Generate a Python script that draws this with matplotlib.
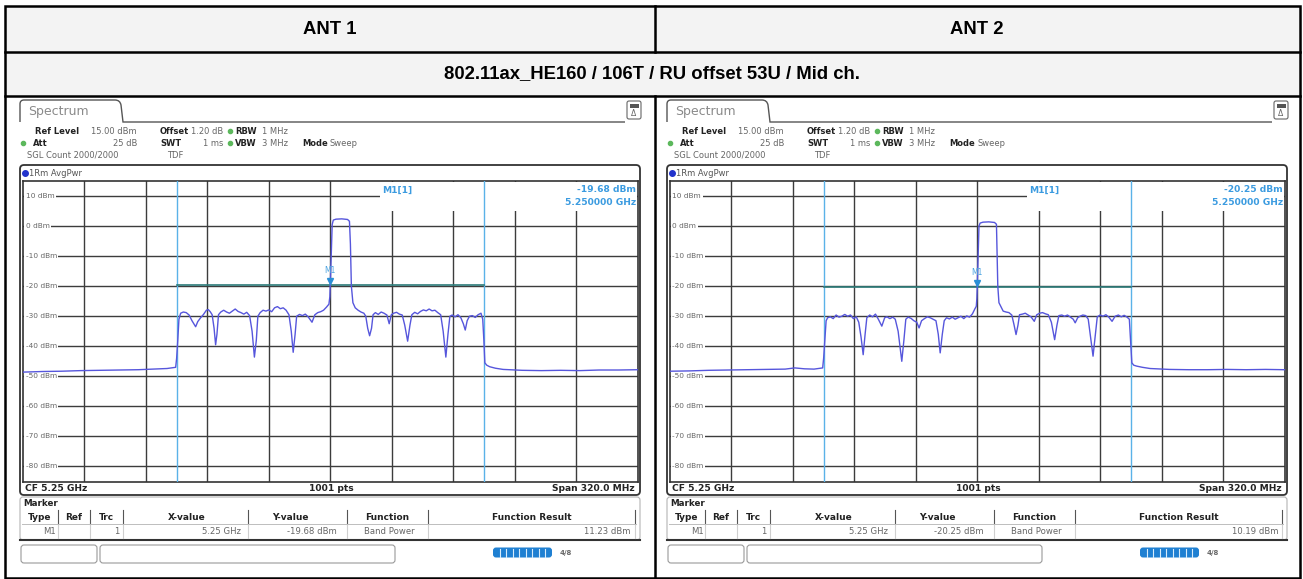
import matplotlib
matplotlib.use("Agg")
import matplotlib.pyplot as plt
from matplotlib.patches import Rectangle, FancyBboxPatch
from matplotlib.path import Path
from matplotlib.patches import PathPatch

# ---------------- data ----------------
COL_HEADERS = ["ANT 1", "ANT 2"]
TITLE = "802.11ax_HE160 / 106T / RU offset 53U / Mid ch."
REF_LEVEL = 15.0          # dBm (top of grid)
DB_PER_DIV = 10
N_DIV = 10
START_MHZ = 5090
STOP_MHZ = 5410
CF_TEXT = "CF 5.25 GHz"
PTS_TEXT = "1001 pts"
SPAN_TEXT = "Span 320.0 MHz"
BAND_EDGES_MHZ = [5170, 5330]
MARKER_FREQ_MHZ = 5250
MARKER_LEVEL = [-19.68, -20.25]
BAND_POWER = [11.23, 10.19]
Y_TICKS = [10, 0, -10, -20, -30, -40, -50, -60, -70, -80]

ANT1_TRACE = [
    (5090, -48.6), (5100, -48.4), (5110, -48.3), (5120, -48.1), (5130, -48.0), (5140, -47.9),
    (5150, -47.8), (5158, -47.6), (5165, -47.4), (5169.5, -47.0),
    (5170.0, -44), (5170.6, -38), (5171.2, -31), (5172.1, -29.0), (5173.5, -28.6), (5175, -28.8),
    (5176.5, -29.6), (5178, -31.5), (5179.9, -33.5), (5181, -31.8), (5182.5, -30.5), (5184, -29.4),
    (5185.5, -28.0), (5186.5, -27.8), (5187.5, -28.5), (5188.5, -29.5), (5189.5, -34), (5190.3, -39.5),
    (5191.0, -36), (5191.8, -29.5), (5193, -28.6), (5194.5, -28.0), (5196, -28.6), (5197.5, -29.0),
    (5199, -28.3), (5200.5, -27.6), (5202, -28.4), (5203.5, -28.8), (5205, -29.3), (5206.5, -28.7),
    (5208, -29.8), (5209.3, -35), (5210.5, -43.6), (5211.5, -38), (5212.3, -30), (5213.5, -28.8),
    (5215, -28.0), (5216.5, -28.3), (5218, -27.9), (5219.5, -28.5), (5221, -27.2), (5222.5, -26.8),
    (5224, -27.5), (5225.5, -27.2), (5227, -28), (5228.5, -29.5), (5229.7, -35), (5230.7, -42.0),
    (5231.7, -36), (5232.5, -30), (5234, -29.4), (5235.5, -29.8), (5237, -29.3), (5238.5, -30.2),
    (5240.5, -32), (5242, -29.5), (5243.5, -28.8), (5245, -28.5), (5246.5, -28.0), (5248, -27.0),
    (5249.3, -26.0), (5249.8, -23.5), (5250.0, -19.7), (5250.6, -8), (5251.0, 0.5), (5251.6, 2.0),
    (5253, 2.3), (5256, 2.4), (5259, 2.2), (5260.0, 1.6), (5260.5, -6), (5261.0, -20), (5261.8, -25.5),
    (5263, -27.2), (5264.5, -28), (5266, -28.6), (5267.5, -29.0), (5268.5, -30), (5269.5, -34),
    (5270.5, -36.5), (5271.5, -34), (5272.3, -29.5), (5273.5, -28.8), (5275, -29.4), (5276.5, -28.6),
    (5278, -29.0), (5279.5, -29.6), (5280.7, -32.5), (5281.8, -29.5), (5283, -29.0), (5284.5, -28.7),
    (5286, -29.3), (5287.5, -29.6), (5288.8, -33), (5290.3, -38.3), (5291.5, -33), (5292.5, -29.5),
    (5294, -28.7), (5295.5, -29.2), (5297, -28.4), (5298.5, -27.9), (5300, -28.2), (5301.5, -27.6),
    (5303, -28.2), (5304.5, -28.0), (5306, -28.8), (5307.5, -29.5), (5308.8, -35), (5310.2, -43.6),
    (5311.3, -36), (5312.3, -30), (5313.5, -29.6), (5315, -30.2), (5316.5, -29.5), (5318, -30.5),
    (5319.3, -32.5), (5320.3, -34.6), (5321.3, -31.5), (5322.5, -30), (5324, -29.8), (5325.5, -30.4),
    (5327, -29.5), (5328.5, -29.0), (5329.4, -31), (5330.0, -38), (5330.5, -45.5), (5331.5, -46.3),
    (5333, -46.8), (5336, -47.3), (5340, -47.7), (5350, -48.0), (5360, -48.1), (5370, -48.0),
    (5380, -48.1), (5390, -47.9), (5400, -47.9), (5410, -47.8),
]

ANT2_TRACE = [
    (5090, -48.3), (5100, -48.2), (5110, -48.0), (5120, -47.9), (5130, -47.8), (5140, -47.7),
    (5150, -47.6), (5155, -47.2), (5160, -47.5), (5165, -47.6), (5169.5, -47.2),
    (5170.0, -44), (5170.6, -38), (5171.3, -31.5), (5172.1, -30.5), (5173.5, -30.2), (5175, -30.8),
    (5176.5, -29.6), (5178, -30.3), (5179.5, -30.0), (5181, -29.4), (5182.5, -30.0), (5184, -29.6),
    (5185.5, -30.8), (5187, -30.2), (5188.3, -32), (5189.5, -37), (5190.6, -42.8), (5191.6, -36),
    (5192.5, -30.5), (5194, -29.6), (5195.5, -30.2), (5197, -29.3), (5198.5, -31), (5200.3, -33.3),
    (5201.8, -30.5), (5203, -30.2), (5204.5, -30.8), (5206, -30.3), (5207.3, -31), (5208.8, -35),
    (5210.7, -45), (5211.8, -38), (5212.8, -31), (5214, -30.3), (5215.5, -30.7), (5217, -31.5),
    (5218.5, -32), (5219.7, -33.9), (5221, -31.5), (5222.5, -30.8), (5224, -30.2), (5225.5, -30.5),
    (5227, -31), (5228.5, -31.5), (5229.7, -36), (5230.7, -42.2), (5231.8, -36), (5232.8, -31.5),
    (5234, -30.5), (5235.5, -30.9), (5237, -30.3), (5238.5, -31), (5240, -30.5), (5241.5, -30.0),
    (5243, -30.8), (5244.5, -29.9), (5246, -30.3), (5247.5, -29.2), (5248.8, -27.5), (5249.5, -26.7),
    (5249.8, -24), (5250.0, -20.3), (5250.5, -9), (5250.9, 0), (5251.5, 1.0), (5253, 1.3),
    (5256, 1.4), (5259, 1.2), (5260.0, 0.6), (5260.3, -8), (5260.7, -20), (5261.3, -25.5),
    (5262.5, -27.0), (5263.5, -28.3), (5265, -28.6), (5266.5, -28.8), (5268, -29.6), (5269.2, -33),
    (5270.2, -36.1), (5271.2, -33), (5272, -29.5), (5273.5, -29.3), (5275, -29.0), (5276.5, -29.6),
    (5278, -30.2), (5279.7, -31.7), (5281, -29.5), (5282.5, -29.0), (5284, -28.8), (5285.5, -29.2),
    (5287, -29.5), (5288.6, -32), (5290.3, -37.8), (5291.5, -33), (5292.5, -29.8), (5294, -29.6),
    (5295.5, -30.0), (5297, -29.6), (5298.5, -30.3), (5300, -31), (5301, -32.2), (5302.3, -30.5),
    (5303.5, -30.0), (5305, -29.6), (5306.5, -29.8), (5307.8, -31), (5308.8, -36), (5310.3, -43.3),
    (5311.5, -36), (5312.5, -30.2), (5314, -29.6), (5315.5, -30.0), (5317, -29.5), (5318.5, -30.3),
    (5320.2, -31.7), (5321.8, -30.0), (5323.5, -29.6), (5325, -30.2), (5326.5, -29.7), (5328, -30.3),
    (5329.2, -31), (5329.8, -38), (5330.5, -45.5), (5331.5, -46.3), (5333, -46.6), (5336, -47.0),
    (5340, -47.4), (5350, -47.7), (5360, -47.8), (5370, -47.8), (5380, -47.7), (5390, -47.8),
    (5400, -47.7), (5410, -47.8),
]
TRACES = [ANT1_TRACE, ANT2_TRACE]

SETTINGS_ROW1 = ["Ref Level", "15.00 dBm", "Offset", "1.20 dB", "RBW", "1 MHz"]
SETTINGS_ROW2 = ["Att", "25 dB", "SWT", "1 ms", "VBW", "3 MHz", "Mode", "Sweep"]
SETTINGS_ROW3 = ["SGL Count 2000/2000", "TDF"]
TABLE_HEAD = ["Type", "Ref", "Trc", "X-value", "Y-value", "Function", "Function Result"]

# ---------------- figure ----------------
W, H = 1303, 579
fig = plt.figure(figsize=(W / 100, H / 100), dpi=100)
fig.patch.set_facecolor("white")
bg = fig.add_axes([0, 0, 1, 1])
bg.set_xlim(0, W)
bg.set_ylim(H, 0)
bg.axis("off")

SANS = "DejaVu Sans"
HEAD = "Liberation Sans"
LEFT, RIGHT, TOP, BOT = 5, 1299.5, 6, 577.5
MID = 654.5
R1, R2 = 52, 96

# header backgrounds
bg.add_patch(Rectangle((LEFT, TOP), RIGHT - LEFT, R2 - TOP, fc="#f3f3f3", ec="none", zorder=0))
# table lines
blw = 1.8
bg.add_patch(Rectangle((LEFT, TOP), RIGHT - LEFT, BOT - TOP, fc="none", ec="black", lw=blw, zorder=5))
bg.plot([LEFT, RIGHT], [R1, R1], color="black", lw=blw, zorder=5)
bg.plot([LEFT, RIGHT], [R2, R2], color="black", lw=blw, zorder=5)
bg.plot([MID, MID], [TOP, R1], color="black", lw=blw, zorder=5)
bg.plot([MID, MID], [R2, BOT], color="black", lw=blw, zorder=5)

bg.text((LEFT + MID) / 2, 30, COL_HEADERS[0], ha="center", va="center", fontsize=13.3,
        fontweight="bold", family=HEAD)
bg.text((MID + RIGHT) / 2, 30, COL_HEADERS[1], ha="center", va="center", fontsize=13.3,
        fontweight="bold", family=HEAD)
bg.text((LEFT + RIGHT) / 2, 74, TITLE, ha="center", va="center", fontsize=13.3,
        fontweight="bold", family=HEAD)

LBL = "#222222"
VAL = "#666666"
GREEN = "#5cb85c"
MBLUE = "#3b9be0"


def t(x, y, s, **kw):
    kw.setdefault("family", SANS)
    kw.setdefault("va", "center")
    bg.text(x, y, s, **kw)


def panel(ox, idx):
    # tab
    verts = [(ox + 20, 122), (ox + 20, 104), (ox + 20, 100), (ox + 24, 100), (ox + 115, 100),
             (ox + 120, 100), (ox + 121, 105), (ox + 123, 122), (ox + 625, 122)]
    codes = [Path.MOVETO, Path.LINETO, Path.CURVE3, Path.CURVE3, Path.LINETO,
             Path.CURVE3, Path.CURVE3, Path.LINETO, Path.LINETO]
    bg.add_patch(PathPatch(Path(verts, codes), fc="none", ec="#555555", lw=1.0, zorder=3))
    t(ox + 28, 111, "Spectrum", fontsize=9.0, color="#8a8a8a")
    # icon top-right
    bg.add_patch(FancyBboxPatch((ox + 627, 101), 14, 18, boxstyle="round,pad=0,rounding_size=2",
                                fc="white", ec="#666666", lw=0.8, zorder=3))
    bg.add_patch(Rectangle((ox + 629.5, 104), 9, 3.5, fc="#555555", ec="none", zorder=4))
    t(ox + 634, 113.5, "\u0394", fontsize=5.5, color="#666666", ha="center")

    fs = 6.0
    y1, y2, y3 = 131, 143, 155
    # settings row 1
    t(ox + 35, y1, SETTINGS_ROW1[0], fontsize=fs, fontweight="bold", color=LBL)
    t(ox + 137, y1, SETTINGS_ROW1[1], fontsize=fs, color=VAL, ha="right")
    t(ox + 160, y1, SETTINGS_ROW1[2], fontsize=fs, fontweight="bold", color=LBL)
    t(ox + 223, y1, SETTINGS_ROW1[3], fontsize=fs, color=VAL, ha="right")
    bg.plot([ox + 229.5], [y1], "o", ms=3.0, color=GREEN, zorder=4)
    t(ox + 235, y1, SETTINGS_ROW1[4], fontsize=fs, fontweight="bold", color=LBL)
    t(ox + 262, y1, SETTINGS_ROW1[5], fontsize=fs, color=VAL)
    # row 2
    bg.plot([ox + 23], [y2], "o", ms=3.0, color=GREEN, zorder=4)
    t(ox + 33, y2, SETTINGS_ROW2[0], fontsize=fs, fontweight="bold", color=LBL)
    t(ox + 137, y2, SETTINGS_ROW2[1], fontsize=fs, color=VAL, ha="right")
    t(ox + 160, y2, SETTINGS_ROW2[2], fontsize=fs, fontweight="bold", color=LBL)
    t(ox + 223, y2, SETTINGS_ROW2[3], fontsize=fs, color=VAL, ha="right")
    bg.plot([ox + 229.5], [y2], "o", ms=3.0, color=GREEN, zorder=4)
    t(ox + 235, y2, SETTINGS_ROW2[4], fontsize=fs, fontweight="bold", color=LBL)
    t(ox + 262, y2, SETTINGS_ROW2[5], fontsize=fs, color=VAL)
    t(ox + 302, y2, SETTINGS_ROW2[6], fontsize=fs, fontweight="bold", color=LBL)
    t(ox + 330, y2, SETTINGS_ROW2[7], fontsize=fs, color=VAL)
    # row 3
    t(ox + 27, y3, SETTINGS_ROW3[0], fontsize=fs, color=VAL)
    t(ox + 167, y3, SETTINGS_ROW3[1], fontsize=fs, color=VAL)

    # trace window box
    bg.add_patch(FancyBboxPatch((ox + 20, 165), 620, 330, boxstyle="round,pad=0,rounding_size=4",
                                fc="white", ec="#333333", lw=1.3, zorder=1))
    bg.plot([ox + 25], [173], "o", ms=4, color="#2233cc", zorder=4)
    t(ox + 29, 173, "1Rm AvgPwr", fontsize=fs, color="#555555")

    # ---------------- spectrum axes ----------------
    pl, pr, pt, pb = ox + 23, ox + 637.5, 181, 481.5
    ax = fig.add_axes([pl / W, 1 - pb / H, (pr - pl) / W, (pb - pt) / H])
    ax.set_xlim(START_MHZ, STOP_MHZ)
    ax.set_ylim(REF_LEVEL - N_DIV * DB_PER_DIV, REF_LEVEL)
    ax.set_xticks([])
    ax.set_yticks([])
    for s in ax.spines.values():
        s.set_color("#333333")
        s.set_linewidth(1.2)
    gcol = "#3c3c3c"
    div = (STOP_MHZ - START_MHZ) / N_DIV
    for k in range(1, N_DIV):
        ax.axvline(START_MHZ + k * div, color=gcol, lw=1.0, zorder=1)
    for v in Y_TICKS:
        ax.axhline(v, color=gcol, lw=1.0, zorder=1)
    tr = bg.transData
    # marker info box covering grid
    ax.add_patch(Rectangle((ox + 380, pt + 0.5), pr - (ox + 380) - 0.5, 29, transform=tr,
                           fc="white", ec="none", zorder=2, clip_on=False))
    # y labels
    for v in Y_TICKS:
        ypx = pt + (REF_LEVEL - v) / DB_PER_DIV * (pb - pt) / N_DIV
        ax.text(ox + 25.5, ypx, f"{v} dBm", transform=tr, fontsize=5.3, color="#666666",
                family=SANS, va="center", ha="left", zorder=3,
                bbox=dict(fc="white", ec="none", pad=0.9))
    # band limit lines
    for f in BAND_EDGES_MHZ:
        ax.axvline(f, color="#5ab2e8", lw=1.0, zorder=4)
    lvl = MARKER_LEVEL[idx]
    ax.plot(BAND_EDGES_MHZ, [lvl, lvl], color="#2d7c7a", lw=1.2, zorder=4)
    trace = TRACES[idx]
    ax.plot([p[0] for p in trace], [p[1] for p in trace], color="#5656dc", lw=1.0, zorder=5)
    ax.plot([MARKER_FREQ_MHZ], [lvl + 1.3], marker="v", ms=4.5, color="#2b8fd6", zorder=6,
            linestyle="none")
    ax.text(MARKER_FREQ_MHZ, lvl + 4.8, "M1", ha="center", va="center", fontsize=5.5,
            color="#4aa3e0", family=SANS, zorder=6)
    ax.text(ox + 382, 190, "M1[1]", transform=tr, fontsize=6.6, fontweight="bold", color=MBLUE,
            family=SANS, va="center", ha="left", zorder=6)
    ax.text(ox + 636, 190, f"{lvl:.2f} dBm", transform=tr, fontsize=6.6, fontweight="bold",
            color=MBLUE, family=SANS, va="center", ha="right", zorder=6)
    ax.text(ox + 636, 202.5, f"{MARKER_FREQ_MHZ / 1000:.6f} GHz", transform=tr, fontsize=6.6,
            fontweight="bold", color=MBLUE, family=SANS, va="center", ha="right", zorder=6)

    # footer of trace window
    t(ox + 25, 488.5, CF_TEXT, fontsize=6.6, fontweight="bold", color=LBL)
    t(ox + 331, 488.5, PTS_TEXT, fontsize=6.6, fontweight="bold", color=LBL, ha="center")
    t(ox + 635, 488.5, SPAN_TEXT, fontsize=6.6, fontweight="bold", color=LBL, ha="right")

    # marker table
    bg.add_patch(FancyBboxPatch((ox + 20, 497), 620, 43, boxstyle="round,pad=0,rounding_size=3",
                                fc="white", ec="#b5b5b5", lw=0.8, zorder=1))
    bg.plot([ox + 20, ox + 640], [540, 540], color="#333333", lw=1.5, zorder=3)
    t(ox + 23, 503, "Marker", fontsize=6.3, fontweight="bold", color=LBL)
    seps = [58, 90, 123, 248, 347, 428, 635]
    centers = [40, 74, 106, 187, 290, 387, 532]
    for s in seps:
        bg.plot([ox + s, ox + s], [510, 524], color="#555555", lw=0.8, zorder=3)
        bg.plot([ox + s, ox + s], [524, 538], color="#cfcfcf", lw=0.8, zorder=3)
    bg.plot([ox + 22, ox + 636], [524, 524], color="#bdbdbd", lw=0.7, zorder=3)
    for c, h in zip(centers, TABLE_HEAD):
        t(ox + c, 517, h, fontsize=6.5, fontweight="bold", color=LBL, ha="center")
    dfs = 6.1
    y_row = 531
    t(ox + 50, y_row, "M1", fontsize=dfs, color=VAL, ha="center")
    t(ox + 119, y_row, "1", fontsize=dfs, color=VAL, ha="right")
    t(ox + 241, y_row, f"{MARKER_FREQ_MHZ / 1000:.2f} GHz", fontsize=dfs, color=VAL, ha="right")
    t(ox + 337, y_row, f"{lvl:.2f} dBm", fontsize=dfs, color=VAL, ha="right")
    t(ox + 389, y_row, "Band Power", fontsize=dfs, color=VAL, ha="center")
    t(ox + 631, y_row, f"{BAND_POWER[idx]:.2f} dBm", fontsize=dfs, color=VAL, ha="right")

    # status bar
    bg.add_patch(FancyBboxPatch((ox + 21, 545), 76, 18, boxstyle="round,pad=0,rounding_size=3",
                                fc="white", ec="#9a9a9a", lw=0.8, zorder=1))
    bg.add_patch(FancyBboxPatch((ox + 100, 545), 295, 18, boxstyle="round,pad=0,rounding_size=3",
                                fc="white", ec="#9a9a9a", lw=0.8, zorder=1))
    bg.add_patch(FancyBboxPatch((ox + 493, 547.5), 59, 10, boxstyle="round,pad=0,rounding_size=3",
                                fc="#1f80d2", ec="none", zorder=2))
    for k in range(1, 9):
        x = ox + 493 + k * 59 / 9
        bg.plot([x, x], [548.5, 556.5], color="#d8ecfb", lw=0.8, zorder=3)
    t(ox + 560, 552.5, "4/8", fontsize=5, fontweight="bold", color="#6a6a6a")


panel(0, 0)
panel(647, 1)

fig.savefig("out.png", dpi=100, facecolor="white")
